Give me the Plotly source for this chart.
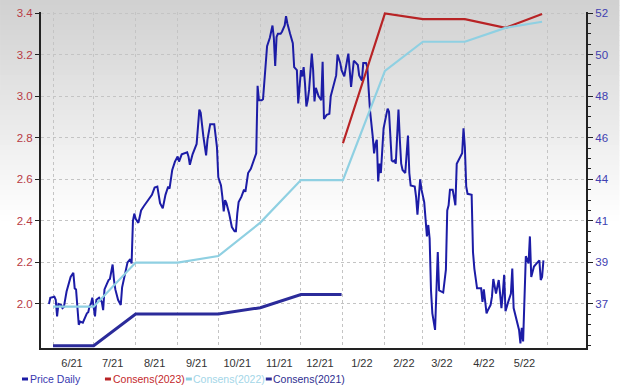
import pandas as pd
import plotly.graph_objects as go

# ---------------- data ----------------
base_date = "2021-06-01"
price_day = [-3, -2, 1, 2, 3, 4, 6, 7, 8, 10,
             13, 15, 16, 17, 19, 20, 22, 24, 25, 26,
             27, 28, 29, 31, 32, 34, 36, 37, 38, 40,
             41, 42, 43, 44, 45, 46, 48, 50, 51, 52,
             54, 55, 57, 58, 59, 60, 61, 63, 64, 65,
             67, 69, 71, 73, 75, 77, 78, 79, 81, 83,
             85, 86, 88, 90, 92, 93, 95, 97, 99, 100,
             101, 103, 105, 106, 108, 109, 111, 113, 114, 116,
             119, 121, 122, 124, 125, 126, 127, 128, 130, 131,
             132, 134, 135, 136, 137, 139, 141, 142, 143, 144,
             146, 148, 150, 151, 152, 154, 155, 158, 160, 162,
             163, 164, 165, 166, 168, 169, 171, 172, 173, 175,
             177, 178, 180, 181, 182, 183, 184, 185, 186, 187,
             188, 189, 191, 192, 193, 194, 196, 198, 199, 200,
             202, 204, 205, 207, 209, 210, 212, 213, 215, 217,
             218, 219, 220, 222, 223, 225, 226, 228, 229, 231,
             232, 233, 234, 236, 237, 238, 239, 240, 241, 242,
             244, 246, 247, 248, 250, 251, 252, 253, 255, 256,
             257, 258, 260, 262, 263, 264, 267, 268, 269, 271,
             272, 274, 275, 276, 277, 278, 279, 280, 282, 283,
             284, 285, 287, 288, 290, 291, 292, 293, 295, 297,
             298, 300, 302, 303, 304, 305, 306, 309, 310, 311,
             312, 313, 316, 317, 318, 319, 320, 321, 323, 324,
             325, 327, 328, 329, 330, 331, 332, 333, 334, 335,
             336, 338, 339, 340, 341, 342, 344, 345, 346, 347,
             348, 349, 351, 352, 353, 355, 357, 359, 360, 361, 362]
price = [2.00, 2.03, 2.035, 2.02, 1.94, 2.00, 1.995, 1.98, 1.985, 2.06,
         2.13, 2.15, 2.075, 2.07, 1.90, 1.915, 1.91, 1.94, 1.955, 1.96,
         1.99, 2.00, 2.03, 1.94, 2.02, 2.03, 2.01, 1.97, 2.07, 2.10,
         2.115, 2.12, 2.15, 2.19, 2.115, 2.07, 2.02, 1.995, 2.08, 2.115,
         2.17, 2.20, 2.215, 2.195, 2.40, 2.435, 2.41, 2.39, 2.42, 2.45,
         2.47, 2.49, 2.51, 2.525, 2.56, 2.565, 2.525, 2.485, 2.46, 2.525,
         2.565, 2.555, 2.645, 2.685, 2.71, 2.685, 2.72, 2.725, 2.73, 2.71,
         2.67, 2.72, 2.755, 2.77, 2.935, 2.92, 2.805, 2.715, 2.79, 2.865,
         2.865, 2.755, 2.61, 2.57, 2.515, 2.445, 2.50, 2.485, 2.435, 2.395,
         2.37, 2.35, 2.35, 2.435, 2.49, 2.515, 2.55, 2.54, 2.58, 2.63,
         2.65, 2.69, 2.725, 3.05, 2.98, 2.98, 2.985, 3.24, 3.28, 3.34,
         3.28, 3.145, 3.285, 3.30, 3.30, 3.31, 3.34, 3.385, 3.35, 3.30,
         3.255, 3.14, 3.125, 2.965, 3.075, 3.125, 3.095, 3.14, 3.06, 2.95,
         2.98, 3.03, 3.205, 3.125, 2.975, 3.04, 3.00, 2.98, 3.165, 2.89,
         2.91, 2.915, 3.00, 3.055, 3.10, 3.20, 3.16, 3.125, 3.095, 3.17,
         3.205, 3.125, 3.045, 3.17, 3.165, 3.15, 3.10, 3.075, 3.16, 3.16,
         3.14, 3.03, 2.93, 2.805, 2.725, 2.77, 2.79, 2.59, 2.675, 2.63,
         2.845, 2.91, 2.94, 2.925, 2.69, 2.685, 2.69, 2.675, 2.935, 2.79,
         2.675, 2.645, 2.63, 2.81, 2.63, 2.57, 2.565, 2.515, 2.43, 2.60,
         2.55, 2.49, 2.405, 2.325, 2.38, 2.315, 2.065, 1.955, 1.875, 2.13,
         2.25, 2.065, 2.06, 2.055, 2.165, 2.45, 2.475, 2.55, 2.55, 2.475,
         2.675, 2.70, 2.725, 2.845, 2.755, 2.565, 2.53, 2.525, 2.25, 2.17,
         2.115, 2.075, 2.075, 2.01, 2.07, 2.00, 1.955, 1.97, 1.995, 2.035,
         2.12, 2.05, 2.09, 2.115, 2.05, 1.98, 2.05, 2.14, 1.965, 1.99,
         2.01, 2.05, 2.17, 1.98, 1.955, 1.93, 1.875, 1.81, 1.885, 1.82,
         2.05, 2.23, 2.195, 2.325, 2.13, 2.18, 2.195, 2.21, 2.115, 2.13, 2.21]

cons2021_dates = ["2021-06-01", "2021-07-01", "2021-08-01", "2021-09-01",
                  "2021-10-01", "2021-11-01", "2021-12-01", "2021-12-31"]
cons2021 = [35.09, 35.09, 36.69, 36.69, 36.69, 37.01, 37.68, 37.68]

cons2022_dates = ["2021-06-01", "2021-07-01", "2021-08-01", "2021-09-01",
                  "2021-10-01", "2021-11-01", "2021-12-01", "2022-01-01",
                  "2022-02-01", "2022-03-01", "2022-04-01", "2022-05-01",
                  "2022-05-28"]
cons2022 = [37.06, 37.06, 39.29, 39.29, 39.62, 41.31, 43.46, 43.46,
            48.98, 50.45, 50.45, 51.15, 51.46]

cons2023_dates = ["2022-01-01", "2022-02-01", "2022-03-01", "2022-04-01",
                  "2022-05-01", "2022-05-28"]
cons2023 = [45.32, 51.88, 51.59, 51.59, 51.15, 51.85]

x_tick_dates = ["2021-06-15", "2021-07-15", "2021-08-15", "2021-09-15",
                "2021-10-15", "2021-11-15", "2021-12-15", "2022-01-15",
                "2022-02-15", "2022-03-15", "2022-04-15", "2022-05-15"]
x_tick_labels = ["6/21", "7/21", "8/21", "9/21", "10/21", "11/21", "12/21",
                 "1/22", "2/22", "3/22", "4/22", "5/22"]

left_ticks = [2.0, 2.2, 2.4, 2.6, 2.8, 3.0, 3.2, 3.4]
right_ticks = [37.2, 39.3, 41.4, 43.5, 45.6, 47.7, 49.8, 51.9]
right_labels = ["37", "39", "41", "44", "46", "48", "50", "52"]

legend_names = ["Price Daily", "Consens(2023)", "Consens(2022)", "Consens(2021)"]

# ---------------- styling ----------------
C_PRICE = "#1c1ca6"
C_2023 = "#b82325"
C_2022 = "#8fd0e2"
C_2021 = "#2b2b9a"
LEG_TXT = ["#3838b0", "#c4282c", "#a3d6e8", "#2d2d90"]
FONT = "Liberation Sans, Arial, sans-serif"
GRID = "#c4c4c4"

W, H = 620, 392
ML, MR, MT, MB = 41, 33.5, 12, 44
PW, PH = W - ML - MR, H - MT - MB


def px2x(px):
    return (px - ML) / PW


def px2y(py):
    return (H - MB - py) / PH


left_range = [1.788, 3.405]
right_range = [37.2 + 10.5 * (v - 2.0) for v in left_range]

price_dates = pd.Timestamp(base_date) + pd.to_timedelta(price_day, unit="D")

fig = go.Figure()
fig.add_trace(go.Scatter(x=cons2021_dates, y=cons2021, yaxis="y2", mode="lines",
                         line=dict(color=C_2021, width=3), name="Consens(2021)",
                         showlegend=False))
fig.add_trace(go.Scatter(x=cons2023_dates, y=cons2023, yaxis="y2", mode="lines",
                         line=dict(color=C_2023, width=2.2), name="Consens(2023)",
                         showlegend=False))
fig.add_trace(go.Scatter(x=cons2022_dates, y=cons2022, yaxis="y2", mode="lines",
                         line=dict(color=C_2022, width=2.2), name="Consens(2022)",
                         showlegend=False))
fig.add_trace(go.Scatter(x=price_dates, y=price, mode="lines",
                         line=dict(color=C_PRICE, width=2), name="Price Daily",
                         showlegend=False))

shapes = []
# background: grey-to-white vertical fade in the upper part of the figure
band_h = 5
fade_end = 220
top_grey = 208
for i in range(0, fade_end, band_h):
    t = (i + band_h / 2) / fade_end
    g = int(round(top_grey + (255 - top_grey) * t))
    shapes.append(dict(type="rect", xref="paper", yref="paper", layer="below",
                       x0=px2x(0), x1=px2x(W), y0=px2y(i + band_h + 0.5), y1=px2y(i),
                       fillcolor=f"rgb({g},{g},{g})", line=dict(width=0)))

annotations = []
leg_sym_x = [22, 105, 186, 266]
leg_txt_x = [30, 113, 193, 273]
leg_cols = [C_PRICE, C_2023, C_2022, C_2021]
for sx, tx, name, col, tcol in zip(leg_sym_x, leg_txt_x, legend_names, leg_cols, LEG_TXT):
    shapes.append(dict(type="rect", xref="paper", yref="paper",
                       x0=px2x(sx), x1=px2x(sx + 6), y0=px2y(380.5), y1=px2y(377.5),
                       fillcolor=col, line=dict(width=0)))
    annotations.append(dict(text=name, xref="paper", yref="paper", x=px2x(tx),
                            y=px2y(379), xanchor="left", yanchor="middle",
                            showarrow=False, xshift=-2,
                            font=dict(family=FONT, size=10.5, color=tcol)))

fig.update_layout(
    width=W, height=H,
    margin=dict(l=ML, r=MR, t=MT, b=MB, pad=0, autoexpand=False),
    paper_bgcolor="white",
    plot_bgcolor="rgba(0,0,0,0)",
    font=dict(family=FONT, size=11, color="#333333"),
    showlegend=False,
    shapes=shapes,
    annotations=annotations,
    xaxis=dict(
        type="date", automargin=False,
        range=["2021-05-23 03:00", "2022-06-29 10:00"],
        tickmode="array", tickvals=x_tick_dates, ticktext=x_tick_labels,
        ticks="", showgrid=False, zeroline=False, ticklabelstandoff=4,
        showline=True, linecolor="#222222", linewidth=2,
        tickfont=dict(family=FONT, size=11, color="#333333"),
        minor=dict(dtick="M1", tick0="2021-06-01", showgrid=True,
                   gridcolor=GRID, griddash="3px,3px", gridwidth=1, ticks=""),
    ),
    yaxis=dict(
        automargin=False,
        range=left_range,
        tickmode="array", tickvals=left_ticks,
        ticktext=[f"{v:.1f}" for v in left_ticks],
        ticks="outside", ticklen=4, tickcolor="#222222", tickwidth=1,
        showgrid=True, gridcolor=GRID, griddash="3px,3px", gridwidth=1,
        zeroline=False, showline=True, linecolor="#222222", linewidth=2,
        tickfont=dict(family=FONT, size=11.5, color="#b83a44"),
    ),
    yaxis2=dict(
        automargin=False,
        overlaying="y", side="right",
        range=right_range,
        tickmode="array", tickvals=right_ticks, ticktext=right_labels,
        ticks="outside", ticklen=5, tickcolor="#222222", tickwidth=1,
        showgrid=False, zeroline=False,
        showline=True, linecolor="#222222", linewidth=2,
        tickfont=dict(family=FONT, size=11.5, color="#4040b0"),
        minor=dict(tickmode="linear", tick0=37.2, dtick=0.525, ticks="outside",
                   ticklen=3, tickcolor="#222222", showgrid=False),
    ),
)

fig.write_html("out.html",
               config={"displayModeBar": False},
               post_script="document.body.style.margin='0px';"
                           "document.body.style.overflow='hidden';")
